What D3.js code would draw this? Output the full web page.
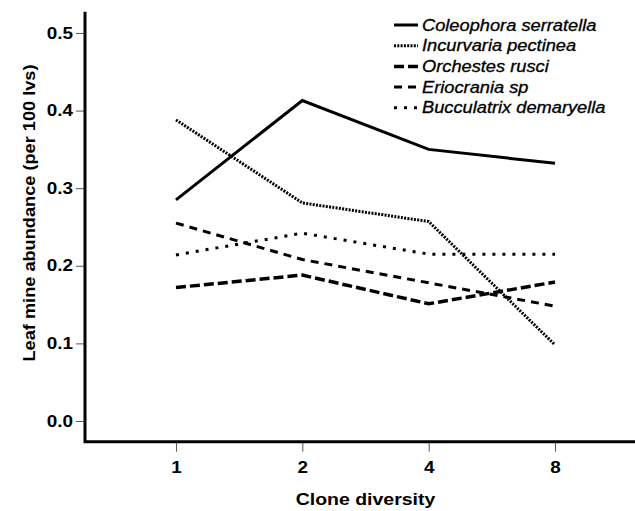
<!DOCTYPE html>
<html>
<head>
<meta charset="utf-8">
<script src="https://cdn.jsdelivr.net/npm/d3@7"></script>
<style>
  body { margin: 0; background: #fff; }
  svg { display: block; font-family: "Liberation Sans", Arial, sans-serif; }
</style>
</head>
<body>
<div id="chart"></div>
<script>
var categories = ["1", "2", "4", "8"];
var seriesNames = ["Coleophora serratella", "Incurvaria pectinea", "Orchestes rusci", "Eriocrania sp", "Bucculatrix demaryella"];
var coleophora = [0.285, 0.413, 0.350, 0.332];
var incurvaria = [0.388, 0.281, 0.257, 0.098];
var orchestes = [0.172, 0.188, 0.151, 0.179];
var eriocrania = [0.255, 0.208, 0.178, 0.148];
var bucculatrix = [0.214, 0.242, 0.215, 0.215];
var yTicks = [0.0, 0.1, 0.2, 0.3, 0.4, 0.5];

var seriesValues = [coleophora, incurvaria, orchestes, eriocrania, bucculatrix];
// line styles in the same order as the series
var styles = [
  {dash: null, w: 3},
  {dash: "2,1.3", w: 3},
  {dash: "10,4", w: 3.5},
  {dash: "8,6", w: 3},
  {dash: "3,7", w: 3}
];

var width = 635, height = 511;
var stretch = 1.18; // the original text looks a bit wide

var svg = d3.select("#chart").append("svg")
  .attr("width", width)
  .attr("height", height);

var x = d3.scaleLinear().domain([-0.72, 3.72]).range([85, 646]);
var y = d3.scaleLinear().domain([-0.0267, 0.5274]).range([441.7, 11.7]);

function widen(sel, k) {
  var s = k || stretch;
  sel.each(function () {
    var len = this.getComputedTextLength();
    d3.select(this).attr("textLength", len * s).attr("lengthAdjust", "spacingAndGlyphs");
  });
}

// y axis
var yAxis = svg.append("g")
  .attr("transform", "translate(" + x(-0.72) + ",0)")
  .call(d3.axisLeft(y).tickValues(yTicks).tickFormat(d3.format(".1f")).tickSizeOuter(0).tickSize(9).tickPadding(3));
yAxis.select(".domain").remove();
yAxis.selectAll(".tick line").attr("stroke", "#555").attr("stroke-width", 1);
yAxis.selectAll(".tick text")
  .attr("font-size", "16px").attr("font-weight", "bold").attr("fill", "#000")
  .attr("font-family", "Liberation Sans, Arial, sans-serif")
  .call(widen);

// x axis
var xAxis = svg.append("g")
  .attr("transform", "translate(0," + y(-0.0267) + ")")
  .call(d3.axisBottom(x).tickValues([0, 1, 2, 3]).tickFormat(function (i) { return categories[i]; }).tickSizeOuter(0).tickSize(10).tickPadding(10));
xAxis.select(".domain").remove();
xAxis.selectAll(".tick line").attr("stroke", "#555").attr("stroke-width", 1);
xAxis.selectAll(".tick text")
  .attr("font-size", "16px").attr("font-weight", "bold").attr("fill", "#000")
  .attr("font-family", "Liberation Sans, Arial, sans-serif")
  .call(widen);

// axis lines
svg.append("path")
  .attr("d", "M" + x(-0.72) + "," + y(0.5274) + "V" + y(-0.0267) + "H" + x(3.72))
  .attr("fill", "none")
  .attr("stroke", "#000")
  .attr("stroke-width", 3);

// series lines
var line = d3.line()
  .x(function (d, i) { return x(i); })
  .y(function (d) { return y(d); });

seriesValues.forEach(function (vals, k) {
  svg.append("path")
    .datum(vals)
    .attr("d", line)
    .attr("fill", "none")
    .attr("stroke", "#000")
    .attr("stroke-width", styles[k].w)
    .attr("stroke-dasharray", styles[k].dash);
});

// axis titles
svg.append("text")
  .attr("transform", "translate(29,213) rotate(-90)")
  .attr("text-anchor", "middle")
  .attr("dominant-baseline", "central")
  .attr("font-size", "17px")
  .attr("font-weight", "bold")
  .attr("textLength", 297)
  .attr("lengthAdjust", "spacingAndGlyphs")
  .text("Leaf mine abundance (per 100 lvs)");

svg.append("text")
  .attr("x", x(1.5))
  .attr("y", 499)
  .attr("text-anchor", "middle")
  .attr("dominant-baseline", "central")
  .attr("font-size", "16.5px")
  .attr("font-weight", "bold")
  .text("Clone diversity")
  .call(widen);

// legend
var legend = svg.append("g");
seriesNames.forEach(function (name, k) {
  var ly = 25 + k * 20.7;
  legend.append("line")
    .attr("x1", 394).attr("x2", 418)
    .attr("y1", ly).attr("y2", ly)
    .attr("stroke", "#000")
    .attr("stroke-width", styles[k].w)
    .attr("stroke-dasharray", styles[k].dash);
  legend.append("text")
    .attr("x", 422)
    .attr("y", ly)
    .attr("dominant-baseline", "central")
    .attr("font-size", "16px")
    .attr("font-style", "italic")
    .attr("stroke", "#000")
    .attr("stroke-width", 0.3)
    .text(name)
    .call(widen, 1.14);
});
</script>
</body>
</html>
